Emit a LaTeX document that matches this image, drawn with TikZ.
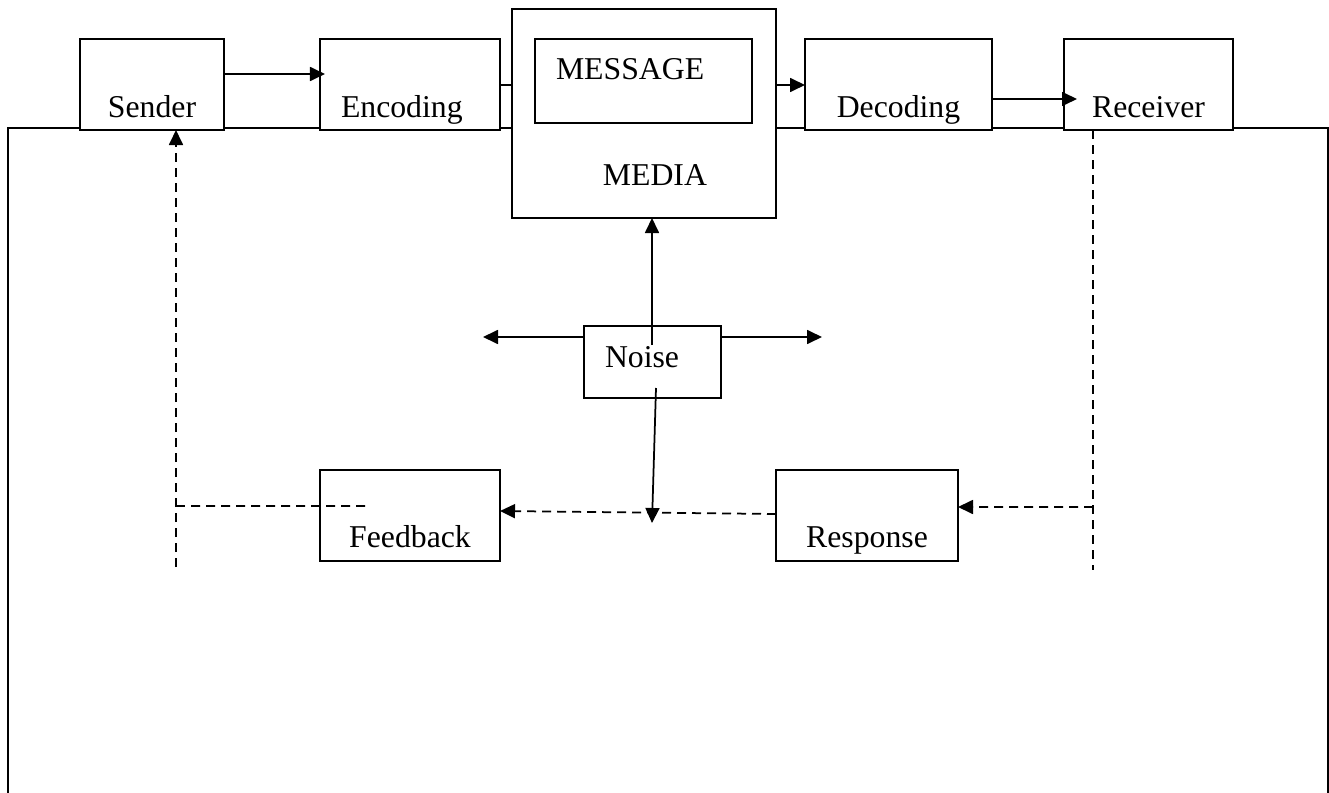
\documentclass[tikz,border=0pt]{standalone}
\usepackage{fontspec}
\setmainfont{Liberation Serif}
\usetikzlibrary{arrows.meta,calc}
\tikzset{
  box/.style={draw, fill=white, line width=0.7pt, inner sep=0pt, outer sep=0pt, anchor=base,
    font=\fontsize{12.7pt}{15pt}\selectfont},
  topbox/.style={box, text height=31.2pt, text depth=5.2pt},
  lowbox/.style={box, text height=30.8pt, text depth=5.6pt},
  arr/.style={-{Triangle[length=6pt,width=5.6pt]}},
  dash line/.style={dash pattern=on 3.6pt off 2.4pt}
}
\begin{document}
\begin{tikzpicture}[x=0.4pt,y=-0.4pt,line width=0.7pt]
      \useasboundingbox (0,0) rectangle (1329,793);
      \draw (8,793) -- (8,128) -- (1328,128) -- (1328,793);
      \draw
        (152,117) node[topbox, minimum width=57.6pt] (snd){Sender}
        (410,117) node[topbox, minimum width=72pt, text width=55.2pt, align=left] (enc){Encoding}
        (644,185) node[box, minimum width=105.6pt, text height=70.4pt, text depth=13.2pt,
          text width=50.4pt, align=right] (media){MEDIA}
        (643.5,80) node[box, minimum width=86.8pt, text height=16.4pt, text depth=17.2pt,
          text width=70pt, align=left] (msg){MESSAGE}
        (898.5,117) node[topbox, minimum width=74.8pt] (dec){Decoding}
        (1148.5,117) node[topbox, minimum width=67.6pt] (rcv){Receiver}
        (652.5,367) node[box, minimum width=54.8pt, text height=16.4pt, text depth=12.4pt,
          text width=38pt, align=left] (noise){Noise}
        (410,547) node[lowbox, minimum width=72pt] (fb){Feedback}
        (867,547) node[lowbox, minimum width=72.8pt] (resp){Response};
      \coordinate (nl) at ($(noise.north west)+(-101,11)$);
      \coordinate (nr) at ($(noise.north east)+(101,11)$);
      \coordinate (nd) at ($(noise.south)+(-0.5,125)$);
      \coordinate (nu) at ($(noise.north |- media.south)+(-0.5,0)$);
      \coordinate (rb) at ($(rcv.south west)+(29,440)$);
      \coordinate (sb) at ($(snd.south west)+(96,437)$);
      \begin{scope}[arr]
        \draw (snd.north east) ++(0,35) -- ($(enc.north west)+(5,35)$);
        \draw[-] ($(enc.north east)+(0,46)$) -- ($(media.north west)+(0,76)$);
        \draw ($(media.north east)+(0,76)$) -- ($(dec.north west)+(0,46)$);
        \draw ($(dec.north east)+(0,60)$) -- ($(rcv.north west)+(13,60)$);
        \draw ($(noise.north)+(-0.5,19)$) -- (nu);
        \draw ($(noise.north west)+(0,11)$) -- (nl);
        \draw ($(noise.north east)+(0,11)$) -- (nr);
        \draw ($(noise.south)+(3.5,-10)$) -- (nd);
      \end{scope}
      \begin{scope}[dash line]
        \draw ($(rcv.south west)+(29,0)$) -- (rb);
        \draw[arr] ($(rcv.south west)+(29,377)$) -- ($(resp.north east)+(0,37)$);
        \draw[arr] ($(resp.north west)+(0,44)$) -- ($(fb.north east)+(0,41)$);
        \draw ($(snd.south west)+(96,376)$) -- ($(fb.north west)+(46,36)$);
        \draw[arr] (sb) -- (snd.south -| sb);
      \end{scope}
    \end{tikzpicture}
\end{document}
